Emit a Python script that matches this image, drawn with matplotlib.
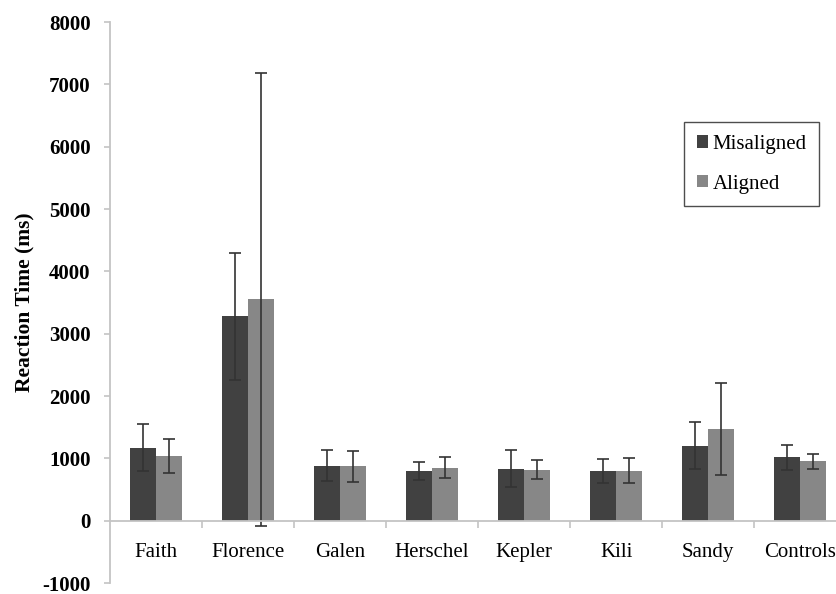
import numpy as np
import matplotlib
matplotlib.use('Agg')
from matplotlib import pyplot as plt
from matplotlib.ticker import FixedLocator

# data
names = ['Faith', 'Florence', 'Galen', 'Herschel', 'Kepler', 'Kili', 'Sandy', 'Controls']
misaligned = [1170, 3280, 880, 800, 835, 800, 1205, 1020]
misaligned_err = [375, 1020, 250, 140, 300, 190, 375, 200]
aligned = [1035, 3550, 870, 850, 820, 800, 1475, 955]
aligned_err = [270, 3640, 250, 165, 150, 200, 740, 120]
yticks = [-1000, 0, 1000, 2000, 3000, 4000, 5000, 6000, 7000, 8000]

plt.rcParams['font.family'] = ['Liberation Serif', 'DejaVu Serif']

fig = plt.figure(figsize=(8.37, 5.94), dpi=100)
ax = fig.add_axes([0.1314, 0.0185, 0.8686, 0.9444])

x = np.arange(len(names))
w = 0.28
errkw = dict(ecolor='#333333', elinewidth=1.2, capsize=4.5, capthick=1.2)
ax.bar(x - w / 2, misaligned, w, yerr=misaligned_err, color='#414141',
       label='Misaligned', error_kw=errkw, zorder=2)
ax.bar(x + w / 2, aligned, w, yerr=aligned_err, color='#878787',
       label='Aligned', error_kw=errkw, zorder=2)

ax.set_xlim(-0.5, 7.4)
ax.set_ylim(-1000, 8000)

# axes styling
for s in ['top', 'right']:
    ax.spines[s].set_visible(False)
ax.spines['bottom'].set_position(('data', 0))
for s in ['left', 'bottom']:
    ax.spines[s].set_color('#c4c4c4')
    ax.spines[s].set_linewidth(1.3)

ax.set_yticks(yticks)
ax.set_yticklabels([str(t) for t in yticks], fontsize=15, fontweight='bold')
ax.tick_params(axis='y', direction='out', length=4, width=1.2, color='#c4c4c4', pad=10)

ax.set_xticks(x)
ax.set_xticklabels(names, fontsize=15)
ax.tick_params(axis='x', which='major', length=0, pad=16)
ax.xaxis.set_minor_locator(FixedLocator(np.arange(0.5, 7.0, 1.0)))
ax.tick_params(axis='x', which='minor', direction='out', length=5, width=1.2, color='#c4c4c4')

ax.set_ylabel('Reaction Time (ms)', fontsize=15.5, fontweight='bold')
ax.yaxis.set_label_coords(-0.104, 0.5)

leg = ax.legend(loc='upper left', bbox_to_anchor=(0.817, 0.795),
                bbox_transform=fig.transFigure, fontsize=15, frameon=True,
                fancybox=False, edgecolor='#222222', handlelength=0.55,
                handleheight=0.55, handletextpad=0.2, labelspacing=1.0,
                borderpad=0.62, borderaxespad=0)
leg.get_frame().set_linewidth(1.0)

fig.savefig('out.png', dpi=100)
